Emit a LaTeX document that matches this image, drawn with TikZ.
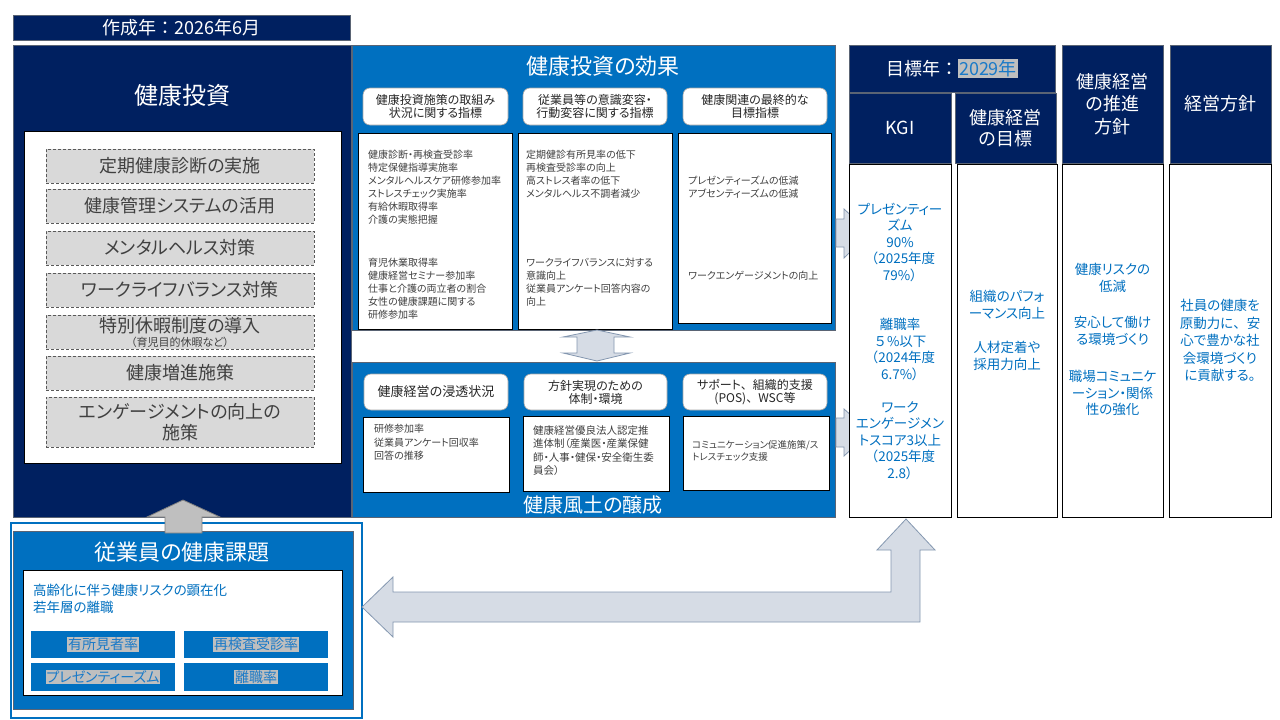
\documentclass[tikz,border=0pt]{standalone}
\usepackage{fontspec}
\setmainfont{Noto Sans CJK JP}[RawFeature=+palt]
\newfontfamily\fw{Noto Sans CJK JP}
\definecolor{navyc}{HTML}{002060}
\definecolor{bluec}{HTML}{0070C0}
\definecolor{bordc}{HTML}{5A6474}
\definecolor{dgray}{HTML}{D9D9D9}
\definecolor{dashc}{HTML}{595959}
\definecolor{txtgray}{HTML}{404040}
\definecolor{txtdark}{HTML}{262626}
\definecolor{hdrb}{HTML}{A6A6A6}
\definecolor{arrfill}{HTML}{D6DCE5}
\definecolor{arrdraw}{HTML}{8497B0}
\definecolor{garrfill}{HTML}{BFBFBF}
\definecolor{garrdraw}{HTML}{7F7F7F}
\definecolor{hlgray}{HTML}{BFBFBF}
\definecolor{hltext}{HTML}{1A7AC8}
\newcommand\fsz[2]{\fontsize{#1}{#2}\selectfont}
\newcommand\hlt[1]{{\setlength{\fboxsep}{0.8pt}\colorbox{hlgray}{\textcolor{hltext}{#1}}}}
% \rbox[opts]{style}{x1}{y1}{x2}{y2}{name}{text}
\newcommand\rbox[8][]{%
  \pgfmathsetmacro\rbcx{(#3+#5)/2}\pgfmathsetmacro\rbcy{(#4+#6)/2}%
  \pgfmathsetmacro\rbw{#5-#3}\pgfmathsetmacro\rbh{#6-#4}%
  \node[inner sep=0pt, outer sep=0pt, #2, minimum width=\rbw pt, minimum height=\rbh pt, anchor=center, #1] (#7) at (\rbcx,\rbcy) {#8};}
\begin{document}
\begin{tikzpicture}[x=1pt,y=-1pt,
  navy/.style={fill=navyc, draw=bordc, line width=0.8pt, text=white, align=center},
  bluep/.style={fill=bluec, draw=bordc, line width=0.8pt},
  wbox/.style={fill=white, draw=black, line width=0.9pt},
  hdr/.style={fill=white, draw=hdrb, line width=0.6pt, rounded corners=7pt, align=center, text=txtdark, font=\fsz{12}{13}},
  dbox/.style={fill=dgray, draw=dashc, dash pattern=on 3pt off 2pt, line width=0.8pt, text=txtgray, align=center, font=\fsz{18}{21}},
  sbox/.style={fill=bluec, draw=none, font=\fsz{14}{16}},
  ctext/.style={anchor=north west, align=left, text=txtgray, inner sep=0pt, font=\fsz{10}{13}},
  coltext/.style={anchor=north, align=center, text=bluec, inner sep=0pt, font=\fsz{13.5}{16.5}},
  wtitle/.style={text=white, inner sep=0pt},
  blockarrow/.style={fill=arrfill, draw=arrdraw, line width=0.8pt, line join=miter},
  grayarrow/.style={fill=garrfill, draw=garrdraw, line width=0.8pt, line join=miter},
]
\useasboundingbox (0,0) rectangle (1280,720);
\fill[white] (0,0) rectangle (1280,720);

% ---- title bar
\rbox{navy, font=\fsz{18}{20}}{13}{15}{350}{40}{year}{作成年{\fw ：}2026年6月}

% ---- left panel
\rbox{navy}{13}{45}{351}{517}{invest}{}
\node[wtitle, font=\fsz{24}{26}] (investT) at (182,95) {健康投資};
\rbox{wbox}{24}{131}{341}{463}{investIn}{}
\rbox{dbox}{46}{149}{314}{183}{d1}{定期健康診断の実施}
\rbox{dbox}{46}{189}{314}{223}{d2}{健康管理システムの活用}
\rbox{dbox}{46}{231}{314}{265}{d3}{メンタルヘルス対策}
\rbox{dbox}{46}{273}{314}{307}{d4}{ワークライフバランス対策}
\rbox{dbox}{46}{315}{314}{349}{d5}{}
\node[inner sep=0pt, text=txtgray, font=\fsz{18}{20}] (d5a) at (180,326) {特別休暇制度の導入};
\node[inner sep=0pt, text=txtgray, font=\fsz{11}{12}] (d5b) at (180,342) {（育児目的休暇など）};
\rbox{dbox}{46}{356}{314}{390}{d6}{健康増進施策}
\rbox{dbox}{46}{397}{314}{447}{d7}{エンゲージメントの向上の\\施策}

% ---- middle top panel
\rbox{bluep}{352}{45}{835}{330}{effect}{}
\node[wtitle, font=\fsz{22}{24}] (effectT) at (603,66) {健康投資の効果};
\rbox{hdr}{363}{88}{508}{125}{h1}{健康投資施策の取組み\\状況に関する指標}
\rbox{hdr}{523}{88}{667}{125}{h2}{従業員等の意識変容・\\行動変容に関する指標}
\rbox{hdr}{683}{88}{827}{125}{h3}{健康関連の最終的な\\目標指標}
\rbox{wbox}{358}{133}{512}{329}{c1}{}
\rbox{wbox}{518}{133}{672}{329}{c2}{}
\rbox{wbox}{678}{133}{831}{323}{c3}{}
\node[ctext] (c1a) at (368,150) {健康診断・再検査受診率\\特定保健指導実施率\\メンタルヘルスケア研修参加率\\ストレスチェック実施率\\有給休暇取得率\\介護の実態把握};
\node[ctext] (c1b) at (368,258) {育児休業取得率\\健康経営セミナー参加率\\仕事と介護の両立者の割合\\女性の健康課題に関する\\研修参加率};
\node[ctext] (c2a) at (526,150) {定期健診有所見率の低下\\再検査受診率の向上\\高ストレス者率の低下\\メンタルヘルス不調者減少};
\node[ctext] (c2b) at (526,258) {ワークライフバランスに対する\\意識向上\\従業員アンケート回答内容の\\向上};
\node[ctext] (c3a) at (688,176) {プレゼンティーズムの低減\\アブセンティーズムの低減};
\node[ctext] (c3b) at (688,271) {ワークエンゲージメントの向上};

% ---- up/down arrow between middle panels
\draw[blockarrow] (597,330) -- (630,337) -- (614,337) -- (614,353) -- (630,353) -- (597,361)
  -- (563,353) -- (577,353) -- (577,337) -- (563,337) -- cycle;

% ---- middle bottom panel
\rbox{bluep}{352}{362}{835}{517}{culture}{}
\node[wtitle, font=\fsz{20}{22}] (cultureT) at (593,505) {健康風土の醸成};
\rbox[font=\fsz{13}{14}]{hdr}{364}{374}{508}{410}{g1}{健康経営の浸透状況}
\rbox{hdr}{524}{374}{667}{410}{g2}{方針実現のための\\体制・環境}
\rbox{hdr}{683}{374}{827}{410}{g3}{サポート{\fw 、}組織的支援\\(POS){\fw 、}WSC等}
\rbox{wbox}{363}{417}{509}{492}{e1}{}
\rbox{wbox}{523}{416}{669}{491}{e2}{}
\rbox{wbox}{683}{416}{829}{490}{e3}{}
\node[ctext, font=\fsz{10}{13.5}] (e1t) at (374,424) {研修参加率\\従業員アンケート回収率\\回答の推移};
\node[ctext, font=\fsz{10.5}{13.5}] (e2t) at (533,425) {健康経営優良法人認定推\\進体制（産業医・産業保健\\師・人事・健保・安全衛生委\\員会）};
\node[ctext, font=\fsz{9.5}{12.5}] (e3t) at (692,440) {コミュニケーション促進施策/ス\\トレスチェック支援};

% ---- small arrows toward KGI
\draw[blockarrow] (836,219) -- (844,219) -- (844,209) -- (870,233) -- (844,258) -- (844,247) -- (836,247) -- cycle;
\draw[blockarrow] (836,418) -- (844,418) -- (844,409) -- (870,432) -- (844,456) -- (844,447) -- (836,447) -- cycle;

% ---- bottom-left issues
\rbox[line width=2.6pt]{fill=white, draw=bluec}{11}{523}{362}{718}{issuesF}{}
\rbox{bluep}{13}{531}{353}{709}{issues}{}
\node[wtitle, font=\fsz{22}{24}] (issuesT) at (182,552) {従業員の健康課題};
\rbox{wbox}{23}{570}{342}{695}{issuesIn}{}
\node[anchor=north west, align=left, inner sep=0pt, text=bluec, font=\fsz{13.5}{17}] (issuesTx) at (33,583.5) {高齢化に伴う健康リスクの顕在化\\若年層の離職};
\rbox{sbox}{31}{631}{175}{658}{k1}{\hlt{有所見者率}}
\rbox{sbox}{184}{631}{328}{658}{k2}{\hlt{再検査受診率}}
\rbox{sbox}{31}{663}{175}{691}{k3}{\hlt{プレゼンティーズム}}
\rbox{sbox}{184}{663}{328}{691}{k4}{\hlt{離職率}}

% ---- gray up arrow
\draw[grayarrow] (165,533) -- (165,517) -- (147,517) -- (183,500) -- (220,517) -- (202,517) -- (202,533) -- cycle;

% ---- big arrow
\draw[blockarrow] (362,607) -- (393,577) -- (393,592) -- (891,592) -- (891,550) -- (877,550) -- (906,519)
  -- (935,550) -- (920,550) -- (920,622) -- (393,622) -- (393,637) -- cycle;

% ---- right headers
\rbox{navy, font=\fsz{18}{20}}{849}{45}{1055}{92}{goalyr}{目標年{\fw ：}\hlt{2029年}}
\rbox{navy, font=\fsz{18}{20}}{849}{93}{951}{163}{kgi}{KGI}
\rbox{navy, font=\fsz{18}{21}}{955}{93}{1056}{163}{goal}{健康経営\\の目標}
\rbox{navy, font=\fsz{18}{22.5}}{1062}{45}{1163}{163}{policy}{健康経営\\の推進\\方針}
\rbox{navy, font=\fsz{18}{20}}{1170}{45}{1271}{163}{mgmt}{経営方針}

% ---- right columns
\rbox{wbox}{849}{164}{951}{517}{col1}{}
\rbox{wbox}{957}{164}{1057}{517}{col2}{}
\rbox{wbox}{1062}{164}{1163}{517}{col3}{}
\rbox{wbox}{1169}{164}{1271}{517}{col4}{}
\node[coltext] (k1t) at (900,203) {プレゼンティー\\ズム\\90\%\\{\fw （}2025年度\\79\%）};
\node[coltext] (k2t) at (900,318) {離職率\\{\fw ５}\%以下\\{\fw （}2024年度\\6.7\%）};
\node[coltext] (k3t) at (900,401) {ワーク\\エンゲージメン\\トスコア3以上\\{\fw （}2025年度\\2.8）};
\node[coltext] (g1t) at (1007,290) {組織のパフォ\\ーマンス向上};
\node[coltext] (g2t) at (1007,341) {人材定着や\\採用力向上};
\node[coltext] (p1t) at (1112.5,263) {健康リスクの\\低減};
\node[coltext] (p2t) at (1112.5,316) {安心して働け\\る環境づくり};
\node[coltext] (p3t) at (1112.5,370) {職場コミュニケ\\ーション・関係\\性の強化};
\node[coltext, font=\fsz{13.5}{17.5}] (m1t) at (1220,299) {社員の健康を\\原動力に{\fw 、}安\\心で豊かな社\\会環境づくり\\に貢献する。};
\end{tikzpicture}
\end{document}
